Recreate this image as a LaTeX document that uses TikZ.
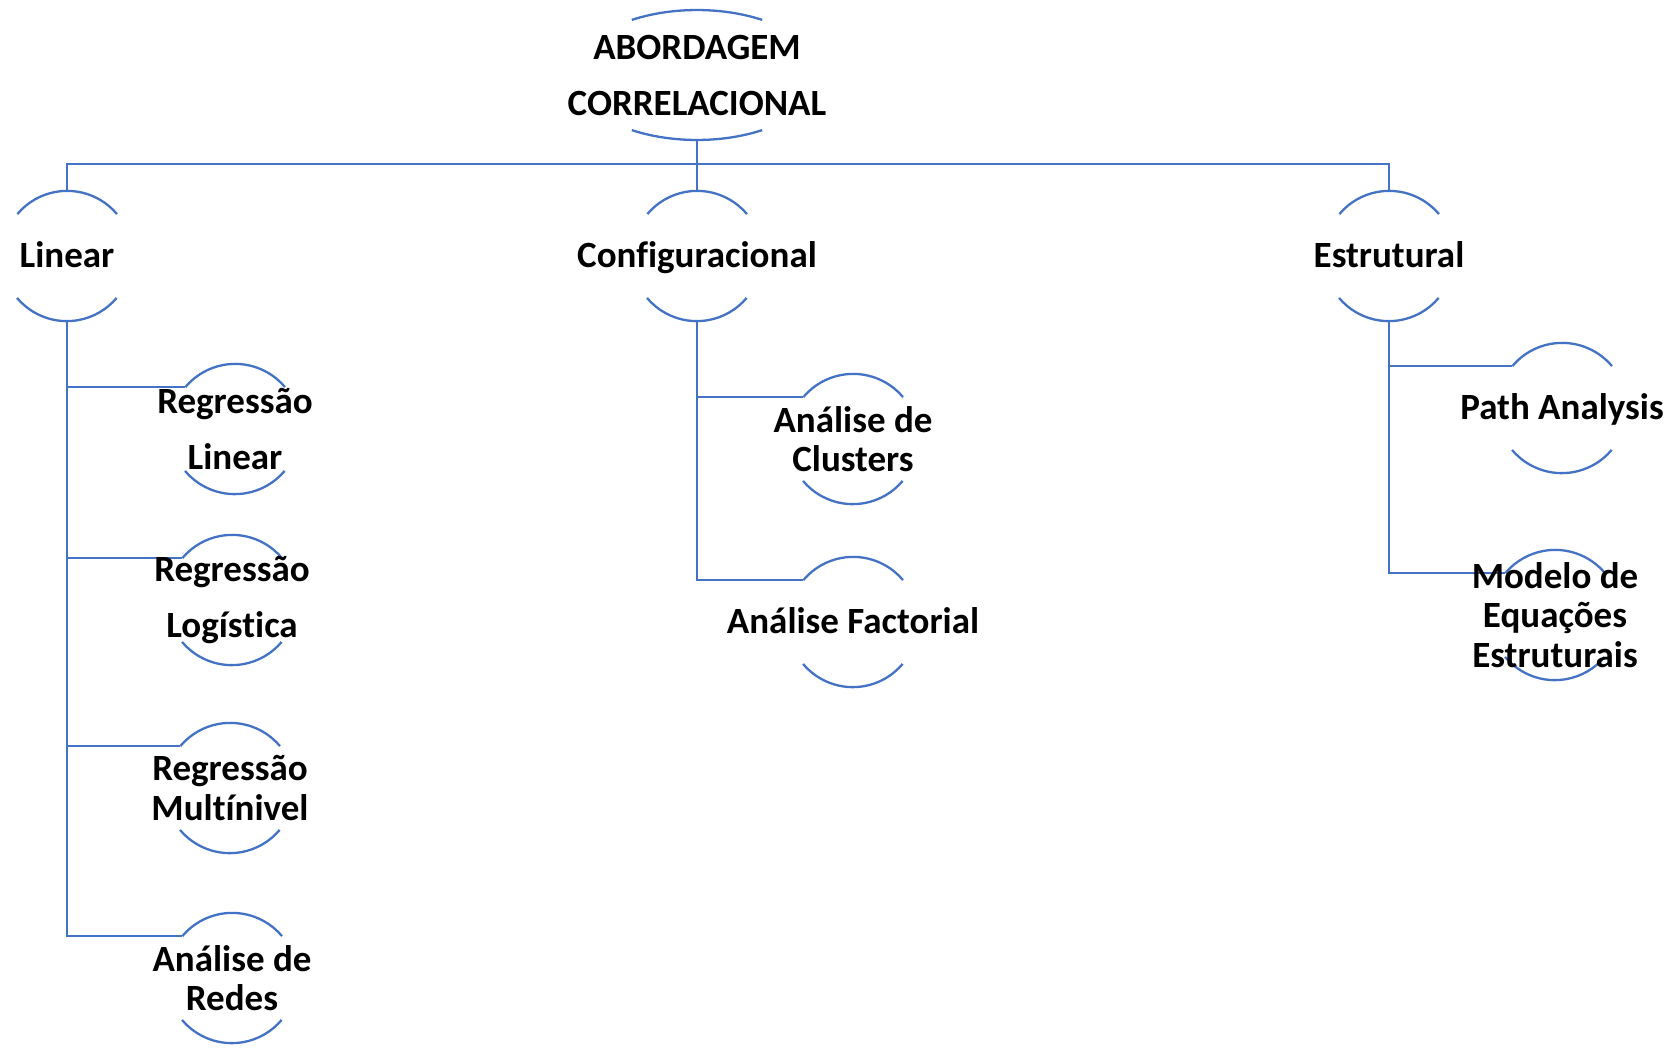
\documentclass[tikz,border=0pt]{standalone}
\usepackage{fontspec}
\setmainfont{Carlito}[RawFeature=-liga]
\usetikzlibrary{shapes.geometric}
\definecolor{myblue}{RGB}{68,114,196}
\tikzset{
  ln/.style={draw=myblue, line width=2.3pt},
  bub/.style={circle, minimum size=130pt, inner sep=0pt, draw=none},
  txt/.style={font=\bfseries\fontsize{37}{39.5}\selectfont, align=center, inner sep=0pt, text=black},
  widetxt/.style={txt, font=\bfseries\fontsize{37}{56}\selectfont},
  onetxt/.style={txt, anchor=base, yshift=-11.5pt}
}
\newcommand\bubarcs[1]{%
  \draw[ln] (#1.40) arc[start angle=40, end angle=140, radius=65pt];
  \draw[ln] (#1.220) arc[start angle=220, end angle=320, radius=65pt];
}
\begin{document}
\begin{tikzpicture}[x=1pt,y=1pt]
\useasboundingbox (0,0) rectangle (1673,-1047);
% shapes
\node[ellipse, minimum width=246pt, minimum height=130pt, inner sep=0pt] (top) at (697,-75) {};
\node[bub] (lin) at (67,-256) {};
\node[bub] (cfg) at (697,-256) {};
\node[bub] (est) at (1389,-256) {};
\node[bub] (rl) at (235,-429) {};
\node[bub] (rlog) at (232,-600) {};
\node[bub] (rm) at (230,-788) {};
\node[bub] (ar) at (232,-978) {};
\node[bub] (cl) at (853,-439) {};
\node[bub] (af) at (853,-622) {};
\node[bub] (pa) at (1562,-408) {};
\node[bub] (sem) at (1555,-615) {};
% arcs
\draw[ln] ([shift={(65.2,55.1)}]top.center) arc[start angle=58, end angle=122, x radius=123pt, y radius=65pt];
\draw[ln] ([shift={(-65.2,-55.1)}]top.center) arc[start angle=238, end angle=302, x radius=123pt, y radius=65pt];
\bubarcs{lin}\bubarcs{cfg}\bubarcs{est}
\bubarcs{rl}\bubarcs{rlog}\bubarcs{rm}\bubarcs{ar}
\bubarcs{cl}\bubarcs{af}\bubarcs{pa}\bubarcs{sem}
% connectors
\draw[ln] (top.south) -- (cfg.north);
\draw[ln] (lin.north) -- ++(0,27) -| (est.north);
\draw[ln] (lin.south) |- (rl.140);
\draw[ln] (lin.south) |- (rlog.140);
\draw[ln] (lin.south) |- (rm.140);
\draw[ln] (lin.south) |- (ar.140);
\draw[ln] (cfg.south) |- (cl.140);
\draw[ln] (cfg.south) |- (af.140);
\draw[ln] (est.south) |- (pa.140);
\draw[ln] (est.south) |- (sem.140);
% texts
\node[widetxt] (topt) at (top.center) {ABORDAGEM\\CORRELACIONAL};
\node[onetxt] (lint) at (lin.center) {Linear};
\node[onetxt] (cfgt) at (cfg.center) {Configuracional};
\node[onetxt] (estt) at (est.center) {Estrutural};
\node[widetxt] (rlt) at (rl.center) {Regressão\\Linear};
\node[widetxt] (rlogt) at (rlog.center) {Regressão\\Logística};
\node[txt] (rmt) at (rm.center) {Regressão\\Multínivel};
\node[txt] (art) at (ar.center) {Análise de\\Redes};
\node[txt] (clt) at (cl.center) {Análise de\\Clusters};
\node[onetxt] (aft) at (af.center) {Análise Factorial};
\node[onetxt] (pat) at (pa.center) {Path Analysis};
\node[txt] (semt) at (sem.center) {Modelo de\\Equações\\Estruturais};
\end{tikzpicture}
\end{document}
